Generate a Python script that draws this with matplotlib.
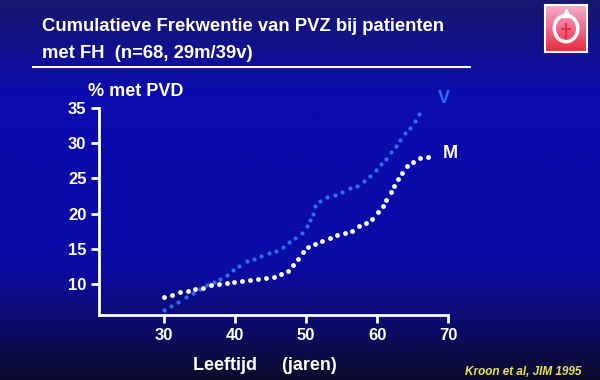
import numpy as np
import matplotlib
matplotlib.use("Agg")
import matplotlib.pyplot as plt
from matplotlib.colors import LinearSegmentedColormap

# V (vrouwen) - blauwe stippellijn
leeftijd_v = [30, 31, 32, 33, 34, 35, 36, 37, 37.9, 38.8, 39.7, 40.6, 41.6, 42.6,
              43.6, 44.7, 45.7, 46.7, 47.6, 48.5, 49.4, 50.1, 50.6, 51.0, 51.3,
              52.0, 53.0, 54.0, 55.1, 56.2, 57.2, 58.2, 59.0, 59.8, 60.5, 61.2,
              61.9, 62.6, 63.3, 64.0, 64.7, 65.3, 65.9]
pct_v = [6.3, 6.9, 7.5, 8.1, 8.7, 9.3, 9.8, 10.3, 10.7, 11.3, 12.0, 12.6, 13.2, 13.6,
         14.0, 14.4, 14.7, 15.2, 15.9, 16.6, 17.3, 18.2, 19.1, 20.0, 21.1,
         21.8, 22.3, 22.7, 23.1, 23.6, 23.9, 24.7, 25.4, 26.2, 27.0, 27.8,
         28.7, 29.6, 30.4, 31.4, 32.2, 33.2, 34.1]

# M (mannen) - witte stippellijn
leeftijd_m = [30, 31.1, 32.2, 33.3, 34.4, 35.5, 36.6, 37.7, 38.8, 39.9, 41.0, 42.1,
              43.2, 44.3, 45.4, 46.5, 47.5, 48.2, 48.8, 49.5, 50.3, 51.2, 52.3,
              53.3, 54.4, 55.5, 56.5, 57.5, 58.4, 59.3, 60.1, 60.8, 61.3, 61.9,
              62.4, 62.9, 63.5, 64.2, 65.1, 66.1, 67.2]
pct_m = [8.1, 8.5, 8.8, 9.0, 9.3, 9.5, 9.8, 10.0, 10.2, 10.3, 10.5, 10.6,
         10.7, 10.8, 11.0, 11.4, 11.8, 12.7, 13.6, 14.5, 15.2, 15.7, 16.1,
         16.5, 16.9, 17.2, 17.6, 18.2, 18.6, 19.3, 20.2, 21.1, 22.0, 23.0,
         23.9, 24.9, 25.8, 26.7, 27.4, 27.9, 28.0]

x_ticks = [30, 40, 50, 60, 70]
y_ticks = [10, 15, 20, 25, 30, 35]

blauw = "#2e6ff2"
FONT = ["Liberation Sans", "DejaVu Sans"]

fig = plt.figure(figsize=(6, 3.8), dpi=100)

# achtergrond: verloop donker -> felblauw -> donkerder
bg = fig.add_axes([0, 0, 1, 1])
cmap = LinearSegmentedColormap.from_list("dia", [
    (0.0, "#0b0b2c"), (0.12, "#0c0c62"), (0.3, "#0b0ba6"),
    (0.75, "#0b0bb0"), (1.0, "#17176c")])
bg.imshow(np.linspace(0, 1, 256).reshape(-1, 1), aspect="auto", cmap=cmap,
          extent=[0, 1, 0, 1])
bg.set_xlim(0, 1)
bg.set_ylim(1, 0)
bg.axis("off")

# titel + lijn (geen smalle letter beschikbaar -> iets kleiner)
fig.text(42 / 600, 1 - 31 / 380, "Cumulatieve Frekwentie van PVZ bij patienten",
         color="white", fontsize=13.3, fontweight="bold", family=FONT,
         va="baseline")
fig.text(42 / 600, 1 - 58 / 380, "met FH  (n=68, 29m/39v)",
         color="white", fontsize=13.3, fontweight="bold", family=FONT,
         va="baseline")
bg.plot([33 / 600, 470 / 600], [67 / 380, 67 / 380], color="white", lw=1.5)

# logo rechtsboven
logo = fig.add_axes([545 / 600, 1 - 52 / 380, 42 / 600, 47 / 380])
logo_cmap = LinearSegmentedColormap.from_list("logo", ["#e82a3c", "#ee6a8c", "#f4b0cc"])
logo.imshow(np.linspace(0, 1, 64).reshape(-1, 1), aspect="auto", cmap=logo_cmap,
            extent=[0, 1, 0, 1])
logo.add_patch(plt.Circle((0.5, 0.5), 0.28, fill=False, color="white", lw=2.5))
logo.plot([0.5, 0.5], [0.4, 0.68], color="#e82a3c", lw=1.5)
logo.plot([0.4, 0.6], [0.52, 0.52], color="#e82a3c", lw=1.5)
logo.plot([0.5], [0.18], marker="^", color="white", ms=6)
logo.set_xlim(0, 1)
logo.set_ylim(1, 0)
for s in logo.spines.values():
    s.set_color("white")
    s.set_linewidth(1.5)
logo.set_xticks([])
logo.set_yticks([])

# grafiek
ax = fig.add_axes([99 / 600, 1 - 315 / 380, (448 - 99) / 600, (315 - 108) / 380])
ax.patch.set_alpha(0)
ax.scatter(leeftijd_v, pct_v, s=9, color=blauw, zorder=3, linewidths=0)
ax.scatter(leeftijd_m, pct_m, s=12, color="white", zorder=3, linewidths=0)
ax.set_xlim(20.8, 70)
ax.set_ylim(5.6, 35)
ax.set_xticks(x_ticks)
ax.set_yticks(y_ticks)
for s in ["top", "right"]:
    ax.spines[s].set_visible(False)
for s in ["left", "bottom"]:
    ax.spines[s].set_color("white")
    ax.spines[s].set_linewidth(2)
ax.tick_params(colors="white", width=2, length=6, direction="out", pad=3)
for lab in ax.get_xticklabels() + ax.get_yticklabels():
    lab.set_fontweight("bold")
    lab.set_fontsize(12)
    lab.set_family(FONT)

ax.text(69.4, 36.3, "V", color=blauw, fontsize=13, fontweight="bold",
        family=FONT, ha="center", va="center", clip_on=False)
ax.text(70.3, 28.6, "M", color="white", fontsize=13, fontweight="bold",
        family=FONT, ha="center", va="center", clip_on=False)

fig.text(88 / 600, 1 - 91 / 380, "% met PVD", color="white", fontsize=13,
         fontweight="bold", family=FONT, va="center")
fig.text(265 / 600, 1 - 365 / 380, "Leeftijd     (jaren)", color="white",
         fontsize=13, fontweight="bold", family=FONT, ha="center", va="center")
fig.text(523 / 600, 1 - 372 / 380, "Kroon et al, JIM 1995", color="#ece25a",
         fontsize=8.5, fontweight="bold", style="italic", family=FONT,
         ha="center", va="center")

fig.savefig("out.png", dpi=100)
